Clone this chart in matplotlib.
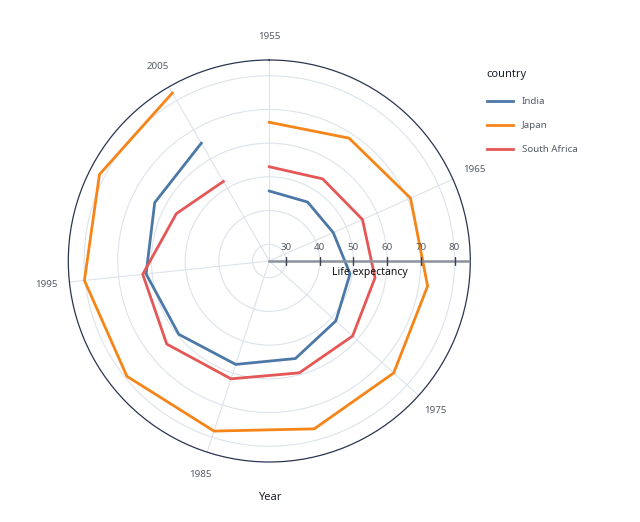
import numpy as np
import matplotlib.pyplot as plt
from matplotlib.lines import Line2D

plt.rcParams['font.family'] = ['Noto Sans', 'DejaVu Sans']

years = [1955, 1960, 1965, 1970, 1975, 1980, 1985, 1990, 1995, 2000, 2005]
india = [45.8, 45.9, 45.8, 49.3, 51.6, 55.0, 57.3, 59.6, 61.8, 63.2, 65.4]
japan = [66.2, 68.5, 70.9, 72.6, 74.7, 76.6, 78.1, 79.4, 80.2, 81.6, 82.6]
south_africa = [53.0, 54.1, 55.3, 56.8, 58.3, 59.4, 61.8, 64.2, 62.8, 56.0, 52.3]

countries = ['India', 'Japan', 'South Africa']
colors = ['#4c78a8', '#f58518', '#e45756']
year_ticks = [1955, 1965, 1975, 1985, 1995, 2005]
r_ticks = [30, 40, 50, 60, 70, 80]
r_min, r_max = 25.04, 84.68

W, H = 640, 522
cx, cy, R = 269.3, 261, 201
px_per_unit = 3.37


def to_theta(y):
    # 1955..2005 spread over 330 degrees
    return (np.asarray(y) - 1955) / 50 * np.deg2rad(330)


fig = plt.figure(figsize=(W / 100, H / 100), dpi=100)
ax = fig.add_axes([(cx - R) / W, (H - cy - R) / H, 2 * R / W, 2 * R / H],
                  projection='polar')
ax.set_theta_zero_location('N')
ax.set_theta_direction(-1)
ax.set_rlim(r_min, r_max)

# grid
ax.set_xticks(to_theta(year_ticks))
ax.set_xticklabels([])
ax.set_yticks(r_ticks)
ax.set_yticklabels([])
ax.grid(True, color='#dde3eb', lw=0.8)
ax.tick_params(axis='x', direction='out', length=5, width=0.9, color='#2b3550')
ax.tick_params(axis='y', length=0)
ax.spines['polar'].set_color('#2b3550')
ax.spines['polar'].set_linewidth(0.9)

# angular labels
for yr in year_ticks:
    ax.text(to_theta(yr), r_min + 224 / px_per_unit, str(yr), ha='center', va='center',
            fontsize=7, color='#555a66', clip_on=False)

# data lines
for vals, col in zip([india, japan, south_africa], colors):
    ax.plot(to_theta(years), vals, color=col, lw=2, zorder=3, clip_on=False)

# radial axis along the right
ax.plot([np.pi / 2, np.pi / 2], [r_min, r_max], color='#8c929c', lw=1.8, zorder=4)
ax.plot([np.pi / 2] * len(r_ticks), r_ticks, ls='none', marker='|', ms=6,
        mew=1, color='#3c4150', zorder=5)
for v in r_ticks:
    ax.annotate(str(v), (np.pi / 2, v), xytext=(0, 10), textcoords='offset points',
                ha='center', va='center', fontsize=7, color='#555a66')

fig.text(370 / W, 1 - 273 / H, 'Life expectancy', ha='center', va='center',
         fontsize=7.5, color='#111111')
fig.text(270 / W, 1 - 497 / H, 'Year', ha='center', va='center',
         fontsize=8, color='#1a1f2e')

# legend
fig.text(486 / W, 1 - 75 / H, 'country', ha='left', va='center',
         fontsize=8, color='#1a1f2e')
for i, (name, col) in enumerate(zip(countries, colors)):
    y = 1 - (101 + 24 * i) / H
    fig.add_artist(Line2D([487 / W, 513 / W], [y, y], color=col, lw=2,
                          transform=fig.transFigure))
    fig.text(522 / W, y, name, ha='left', va='center', fontsize=7, color='#555a66')

fig.savefig('out.png', dpi=100)
